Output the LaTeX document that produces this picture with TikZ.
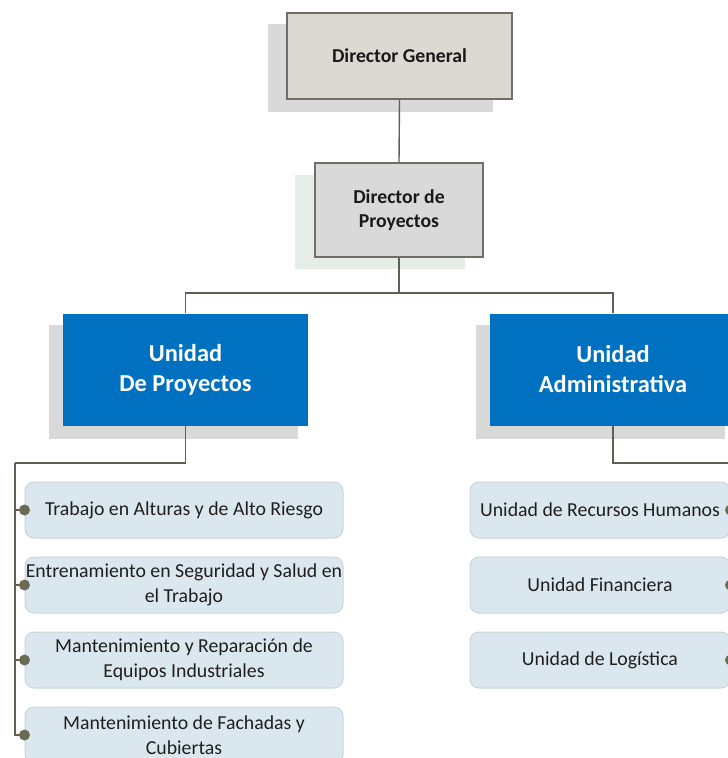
\documentclass[tikz,border=0pt]{standalone}
\usepackage{fontspec}
\setmainfont{Carlito}
\definecolor{linec}{HTML}{5F5F52}
\definecolor{graybox}{HTML}{DCD9D3}
\definecolor{graybox2}{HTML}{D9D9D9}
\definecolor{grayborder}{HTML}{6F6F64}
\definecolor{shadowgray}{HTML}{D9D9D9}
\definecolor{shadowgreen}{HTML}{E6EDE6}
\definecolor{unitblue}{HTML}{0070C0}
\definecolor{childfill}{HTML}{DBE7EE}
\definecolor{childborder}{HTML}{C6D4DC}
\definecolor{dotc}{HTML}{6B6B55}
\begin{document}
\begin{tikzpicture}[x=1pt,y=-1pt,
  conn/.style={draw=linec,line width=1.4pt},
  topbox/.style={draw=grayborder,line width=1.4pt,fill=graybox,inner sep=0pt,align=center,
    font=\fontsize{19.7}{24}\selectfont\bfseries,text=black!90},
  unitbox/.style={fill=unitblue,inner sep=0pt,align=center,text=white,
    font=\fontsize{24.4}{30}\selectfont\bfseries,minimum width=245pt,minimum height=112pt},
  childbox/.style={draw=childborder,line width=1pt,fill=childfill,rounded corners=9pt,inner sep=0pt,
    align=center,minimum height=56pt,text=black!88,font=\fontsize{19.8}{25}\selectfont},
  dot/.style={fill=dotc}
]
\useasboundingbox (0,0) rectangle (728,758);

% drop shadows behind the upper boxes
\fill[shadowgray] (268,24) rectangle (493,112);
\fill[shadowgreen] (295,175) rectangle (465,269);
\fill[shadowgray] (49,325) rectangle (298,439);
\fill[shadowgray] (476,325) rectangle (725,439);

% upper levels
\node[topbox,minimum width=225pt,minimum height=86pt] (DG) at (399.5,56) {Director General};
\node[topbox,fill=graybox2,minimum width=168pt,minimum height=94pt] (DP) at (399,210) {Director de\\Proyectos};
\node[unitbox] (UP) at (185.5,369.5) {Unidad\\De Proyectos};
\node[unitbox,minimum width=246pt] (UA) at (613,369.5) {Unidad\\Administrativa};

% project unit children
\node[childbox,minimum width=318pt] (L1) at (184,510) {Trabajo en Alturas y de Alto Riesgo};
\node[childbox,minimum width=318pt] (L2) at (184,585) {Entrenamiento en Seguridad y Salud en\\el Trabajo};
\node[childbox,minimum width=318pt] (L3) at (184,660) {Mantenimiento y Reparación de\\Equipos Industriales};
\node[childbox,minimum width=318pt] (L4) at (184,735) {Mantenimiento de Fachadas y\\Cubiertas};

% administrative unit children
\node[childbox,minimum width=260pt] (R1) at (600,510) {Unidad de Recursos Humanos};
\node[childbox,minimum width=260pt] (R2) at (600,585) {Unidad Financiera};
\node[childbox,minimum width=260pt] (R3) at (600,660) {Unidad de Logística};

% connectors
\coordinate (bus) at (399,293);
\coordinate (lbus) at (15,463);
\coordinate (rbus) at (741,463);
\draw[conn] (DG.south) -- (DP.north);
\draw[conn] (DP.south) -- (bus);
\draw[conn] (UP.north) |- (bus) -| (UA.north);
\draw[conn] (UP.south) |- (lbus);
\foreach \c in {L1,L2,L3,L4} \draw[conn] (lbus) |- (\c.west);
\draw[conn] (UA.south) |- (rbus);
\foreach \c in {R1,R2,R3} \draw[conn] (rbus) |- (\c.east);

% connection dots
\foreach \c in {L1,L2,L3,L4} \fill[dot] (\c.west) circle (5.5pt);
\foreach \c in {R1,R2,R3} \fill[dot] (\c.east) circle (5.5pt);
\end{tikzpicture}
\end{document}
